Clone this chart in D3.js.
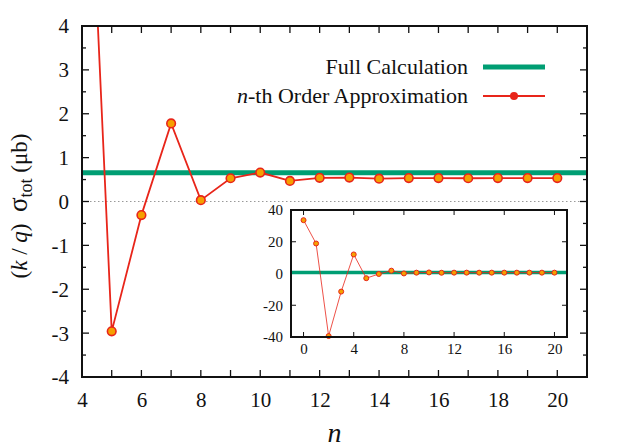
<!DOCTYPE html>
<html><head><meta charset="utf-8">
<script src="https://cdn.jsdelivr.net/npm/d3@7"></script>
<style>body{margin:0;background:#fff}svg{display:block}svg text{font-family:"Liberation Serif",serif !important;}</style>
</head><body><svg id="c" width="627" height="448"></svg>
<script>
// Data
const nMain = [4,5,6,7,8,9,10,11,12,13,14,15,16,17,18,19,20];
const approxMain = [12.0,-2.96,-0.31,1.78,0.03,0.53,0.66,0.47,0.54,0.545,0.52,0.535,0.535,0.53,0.535,0.535,0.535];
const fullCalc = 0.655;
const nInset = [0,1,2,3,4,5,6,7,8,9,10,11,12,13,14,15,16,17,18,19,20];
const approxInset = [33.6,18.9,-39.4,-11.4,12.0,-2.96,-0.31,1.78,0.03,0.53,0.66,0.47,0.54,0.545,0.52,0.535,0.535,0.53,0.535,0.535,0.535];
const xTicksMain = [4,6,8,10,12,14,16,18,20];
const yTicksMain = [-4,-3,-2,-1,0,1,2,3,4];
const xTicksInset = [0,4,8,12,16,20];
const yTicksInset = [-40,-20,0,20,40];

const FONT = "'Liberation Serif', serif";
const GREEN = "#009e73", RED = "#e8251a", ORANGE = "#f5a000";
const svg = d3.select("#c");

// Main plot
const L=82,R=587,T=26,B=377;
const x = d3.scaleLinear().domain([4,21]).range([L,R]);
const y = d3.scaleLinear().domain([-4,4]).range([B,T]);

svg.append("clipPath").attr("id","mclip").append("rect").attr("x",L).attr("y",T).attr("width",R-L).attr("height",B-T);

// zero line
svg.append("line").attr("x1",L).attr("x2",R).attr("y1",y(0)).attr("y2",y(0))
  .attr("stroke","#999").attr("stroke-width",1).attr("stroke-dasharray","1.5,2.5");

// ticks (inward, mirrored)
const tk = svg.append("g").attr("stroke","#111").attr("stroke-width",1.3);
d3.range(4,21.01,1).forEach(v=>{
  tk.append("line").attr("x1",x(v)).attr("x2",x(v)).attr("y1",B).attr("y2",B-7);
  tk.append("line").attr("x1",x(v)).attr("x2",x(v)).attr("y1",T).attr("y2",T+7);
});
d3.range(-4,4.01,0.5).forEach(v=>{
  const len = Number.isInteger(v)?7:4;
  tk.append("line").attr("x1",L).attr("x2",L+len).attr("y1",y(v)).attr("y2",y(v));
  tk.append("line").attr("x1",R).attr("x2",R-len).attr("y1",y(v)).attr("y2",y(v));
});

function styleText(sel, size){
  sel.attr("font-family",FONT).style("font-family",FONT).style("font-size",size+"px").attr("fill","#111");
}

// tick labels
const xa = svg.append("g").attr("transform",`translate(0,${B})`)
  .call(d3.axisBottom(x).tickValues(xTicksMain).tickSize(0).tickPadding(0).tickFormat(d3.format("d")));
xa.attr("font-family",FONT);
xa.select(".domain").remove();
xa.selectAll("text").attr("dy",null).attr("y",30).call(styleText,21);
const ya = svg.append("g").attr("transform",`translate(${L},0)`)
  .call(d3.axisLeft(y).tickValues(yTicksMain).tickSize(0).tickPadding(0).tickFormat(d=>String(d).replace("−","-")));
ya.attr("font-family",FONT);
ya.select(".domain").remove();
ya.selectAll("text").attr("x",-13).attr("dy","0.33em").call(styleText,21);

// full calc line
svg.append("line").attr("clip-path","url(#mclip)").attr("x1",L).attr("x2",R).attr("y1",y(fullCalc)).attr("y2",y(fullCalc))
  .attr("stroke",GREEN).attr("stroke-width",5);

// approx line
const mg = svg.append("g").attr("clip-path","url(#mclip)");
mg.append("path").datum(nMain.map((n,i)=>[n,approxMain[i]]))
  .attr("d",d3.line().x(d=>x(d[0])).y(d=>y(d[1])))
  .attr("fill","none").attr("stroke",RED).attr("stroke-width",1.8);
mg.selectAll("circle").data(nMain.map((n,i)=>[n,approxMain[i]])).join("circle")
  .attr("cx",d=>x(d[0])).attr("cy",d=>y(d[1])).attr("r",4.3)
  .attr("fill",ORANGE).attr("stroke",RED).attr("stroke-width",1.6);

// Inset
const iL=291,iR=567,iT=210,iB=337;
const xi = d3.scaleLinear().domain([-1,21]).range([iL,iR]);
const yi = d3.scaleLinear().domain([-40,40]).range([iB,iT]);
svg.append("rect").attr("x",iL).attr("y",iT).attr("width",iR-iL).attr("height",iB-iT).attr("fill","#fff");
svg.append("clipPath").attr("id","iclip").append("rect").attr("x",iL).attr("y",iT).attr("width",iR-iL).attr("height",iB-iT);
const itk = svg.append("g").attr("stroke","#111").attr("stroke-width",1);
xTicksInset.forEach(v=>{
  itk.append("line").attr("x1",xi(v)).attr("x2",xi(v)).attr("y1",iB).attr("y2",iB-5);
  itk.append("line").attr("x1",xi(v)).attr("x2",xi(v)).attr("y1",iT).attr("y2",iT+5);
});
yTicksInset.forEach(v=>{
  itk.append("line").attr("x1",iL).attr("x2",iL+5).attr("y1",yi(v)).attr("y2",yi(v));
  itk.append("line").attr("x1",iR).attr("x2",iR-5).attr("y1",yi(v)).attr("y2",yi(v));
});
const xia = svg.append("g").attr("transform",`translate(0,${iB})`)
  .call(d3.axisBottom(xi).tickValues(xTicksInset).tickSize(0).tickPadding(0).tickFormat(d3.format("d")));
xia.attr("font-family",FONT);
xia.select(".domain").remove();
xia.selectAll("text").attr("dy",null).attr("y",17).call(styleText,15);
const yia = svg.append("g").attr("transform",`translate(${iL},0)`)
  .call(d3.axisLeft(yi).tickValues(yTicksInset).tickSize(0).tickPadding(0).tickFormat(d=>String(d).replace("−","-")));
yia.attr("font-family",FONT);
yia.select(".domain").remove();
yia.selectAll("text").attr("x",-8).attr("dy","0.33em").call(styleText,15);

const ig = svg.append("g").attr("clip-path","url(#iclip)");
ig.append("line").attr("x1",iL).attr("x2",iR).attr("y1",yi(fullCalc)).attr("y2",yi(fullCalc))
  .attr("stroke",GREEN).attr("stroke-width",3.5);
ig.append("path").datum(nInset.map((n,i)=>[n,approxInset[i]]))
  .attr("d",d3.line().x(d=>xi(d[0])).y(d=>yi(d[1])))
  .attr("fill","none").attr("stroke",RED).attr("stroke-width",1).attr("stroke-opacity",0.8);
svg.append("g").selectAll("circle").data(nInset.map((n,i)=>[n,approxInset[i]])).join("circle")
  .attr("cx",d=>xi(d[0])).attr("cy",d=>yi(d[1])).attr("r",2.5)
  .attr("fill",ORANGE).attr("stroke",RED).attr("stroke-width",1);
svg.append("rect").attr("x",iL).attr("y",iT).attr("width",iR-iL).attr("height",iB-iT)
  .attr("fill","none").attr("stroke","#111").attr("stroke-width",2);

// main frame
svg.append("rect").attr("x",L).attr("y",T).attr("width",R-L).attr("height",B-T)
  .attr("fill","none").attr("stroke","#111").attr("stroke-width",2);

// Legend
svg.append("text").attr("x",468).attr("y",74).attr("text-anchor","end").call(styleText,22).text("Full Calculation");
svg.append("line").attr("x1",483).attr("x2",545).attr("y1",67).attr("y2",67).attr("stroke",GREEN).attr("stroke-width",5);
const lt = svg.append("text").attr("x",468).attr("y",103).attr("text-anchor","end").call(styleText,22);
lt.append("tspan").attr("font-style","italic").text("n");
lt.append("tspan").text("-th Order Approximation");
svg.append("line").attr("x1",483).attr("x2",545).attr("y1",96).attr("y2",96).attr("stroke",RED).attr("stroke-width",1.8);
svg.append("circle").attr("cx",514).attr("cy",96).attr("r",4).attr("fill",RED);

// axis labels
svg.append("text").attr("x",(L+R)/2).attr("y",442).attr("text-anchor","middle")
  .call(styleText,28).attr("font-style","italic").text("n");
const yl = svg.append("text").attr("transform","translate(27,206) rotate(-90)").attr("text-anchor","middle").call(styleText,23);
yl.append("tspan").text("(");
yl.append("tspan").attr("font-style","italic").text("k");
yl.append("tspan").text("\u00a0/\u00a0");
yl.append("tspan").attr("font-style","italic").text("q");
yl.append("tspan").text(")\u00a0\u00a0");
yl.append("tspan").style("font-size","27px").text("σ");
yl.append("tspan").attr("dy",5).style("font-size","18px").text("tot");
yl.append("tspan").attr("dy",-5).text("\u00a0(μb)");
</script></body></html>
